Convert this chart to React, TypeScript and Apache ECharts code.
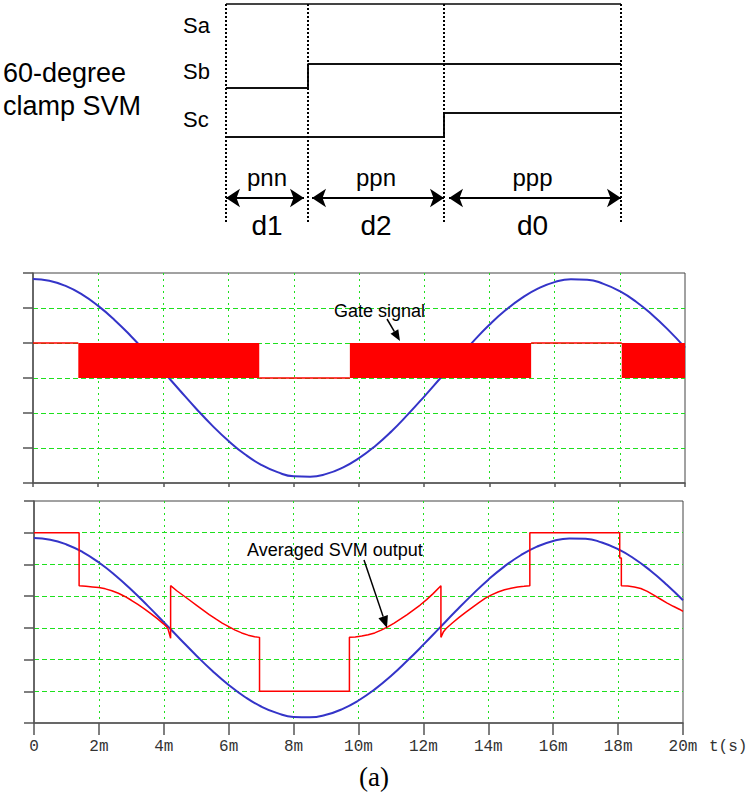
import React, { useEffect, useRef } from "react";
import * as echarts from "echarts";

// ---------- Timing diagram (60-degree clamp SVM) ----------
const intervalNames = ["pnn", "ppn", "ppp"];
const dutyNames = ["d1", "d2", "d0"];
const intervalEdges = [0, 82, 218, 395];
const switchNames = ["Sa", "Sb", "Sc"];
const saStates = [1, 1, 1];
const sbStates = [0, 1, 1];
const scStates = [0, 0, 1];

// ---------- Waveforms (time in ms) ----------
const xTickLabels = ["0", "2m", "4m", "6m", "8m", "10m", "12m", "14m", "16m", "18m", "20m"];
const sineTimes = [0, 0.5, 1, 1.5, 2, 2.5, 3, 3.5, 4, 4.5, 5, 5.5, 6, 6.5, 7, 7.5, 8, 8.5, 9, 9.5, 10,
  10.5, 11, 11.5, 12, 12.5, 13, 13.5, 14, 14.5, 15, 15.5, 16, 16.5, 17, 17.5, 18, 18.5, 19, 19.5, 20];
const sineValues = [2.83, 2.78, 2.63, 2.39, 2.06, 1.66, 1.2, 0.7, 0.18, -0.35, -0.87, -1.36, -1.8, -2.18,
  -2.48, -2.69, -2.81, -2.82, -2.74, -2.56, -2.29, -1.94, -1.52, -1.04, -0.53, 0, 0.53, 1.04, 1.52, 1.94,
  2.29, 2.56, 2.74, 2.82, 2.81, 2.69, 2.48, 2.18, 1.8, 1.36, 0.87];
const gateEdges = [0, 1.39, 6.94, 9.72, 15.28, 18.06, 20];
const gateModes = ["high", "pwm", "low", "pwm", "high", "pwm"];
const avgOutput: [number, number][] = [
  [0, 3], [1.39, 3], [1.39, 1.33], [1.6, 1.31], [1.8, 1.29], [2.0, 1.27], [2.2, 1.23], [2.4, 1.17],
  [2.6, 1.09], [2.8, 0.99], [3.0, 0.87], [3.2, 0.74], [3.4, 0.6], [3.6, 0.45], [3.8, 0.29], [4.0, 0.12],
  [4.12, 0.0], [4.21, -0.33],
  [4.21, 1.33], [4.4, 1.17], [4.6, 1.02], [4.8, 0.87], [5.0, 0.72], [5.2, 0.57], [5.4, 0.42], [5.6, 0.28],
  [5.8, 0.15], [6.0, 0.04], [6.2, -0.07], [6.4, -0.16], [6.6, -0.23], [6.8, -0.28], [6.95, -0.3],
  [6.95, -2], [9.72, -2],
  [9.72, -0.3], [9.9, -0.29], [10.1, -0.26], [10.3, -0.22], [10.5, -0.16], [10.7, -0.07], [10.9, 0.03],
  [11.1, 0.15], [11.3, 0.28], [11.5, 0.42], [11.7, 0.57], [11.9, 0.72], [12.1, 0.89], [12.3, 1.08], [12.54, 1.33],
  [12.54, -0.3], [12.62, -0.12], [12.7, -0.02], [12.9, 0.16], [13.1, 0.33], [13.3, 0.49], [13.5, 0.64],
  [13.7, 0.79], [13.9, 0.93], [14.1, 1.04], [14.3, 1.13], [14.5, 1.2], [14.7, 1.25], [14.9, 1.29],
  [15.1, 1.31], [15.28, 1.33],
  [15.28, 3], [18.05, 3], [18.05, 2.2], [18.1, 2.2], [18.1, 1.33], [18.3, 1.32], [18.5, 1.29], [18.7, 1.24],
  [18.9, 1.15], [19.1, 1.03], [19.3, 0.91], [19.5, 0.79], [19.7, 0.68], [19.9, 0.58], [20, 0.52],
];

// ---------- Styles / layout ----------
const GREEN = "#1ee01e";
const BLUE = "#3434c8";
const RED = "#ff0000";
const AXIS = "#555";
const SANS = "'Liberation Sans', Arial, sans-serif";
const MONO = "'Liberation Mono', 'DejaVu Sans Mono', monospace";
const T = { left: 226, top: 2, width: 395, height: 220 };
const UP = { left: 33, top: 273, width: 652, height: 210 };
const LO = { left: 34, top: 501, width: 649, height: 222 };
const levelBase = [194, 134, 85];
const levelStep = 24;
const arrowLevel = 24;
const arrowInsetL = [0, 4, 5];
const arrowInsetR = [4, 0, 0];

function stepData(states: number[], base: number) {
  const pts: number[][] = [];
  states.forEach((s, i) => {
    const y = base + levelStep * s;
    pts.push([intervalEdges[i], y], [intervalEdges[i + 1], y]);
  });
  return pts;
}

function arrow(x1: number, y1: number, x2: number, y2: number, head = 11, half = 4.5) {
  const dx = x2 - x1, dy = y2 - y1, L = Math.hypot(dx, dy);
  const ux = dx / L, uy = dy / L;
  const bx = x2 - ux * head, by = y2 - uy * head;
  const px = -uy, py = ux;
  return [
    { type: "line", z: 100, shape: { x1, y1, x2: bx, y2: by }, style: { stroke: "#000", lineWidth: 1.5 } },
    { type: "polygon", z: 100, shape: { points: [[x2, y2], [bx + px * half, by + py * half], [bx - px * half, by - py * half]] }, style: { fill: "#000" } },
  ];
}

function txt(text: string, x: number, y: number, size: number, align = "left", family = SANS) {
  return {
    type: "text", z: 100, x, y,
    style: { text, fontSize: size, fontFamily: family, fill: "#000", align, textAlign: align, verticalAlign: "middle", textVerticalAlign: "middle" },
  };
}

function plotX(grid: number, labels: boolean, tickLen: number) {
  return {
    gridIndex: grid, type: "value", min: 0, max: 20, interval: 2,
    axisLine: { show: true, onZero: false, lineStyle: { color: AXIS, width: 1.5 } },
    axisTick: { show: true, length: tickLen, lineStyle: { color: AXIS, width: 1.5 } },
    axisLabel: labels
      ? { show: true, margin: 16, fontFamily: MONO, fontSize: 16, color: "#333", formatter: (v: number) => xTickLabels[Math.round(v / 2)] }
      : { show: false },
    splitLine: { show: true, showMinLine: false, showMaxLine: false, lineStyle: { color: GREEN, type: [2, 4], width: 1 } },
    ...(labels
      ? { name: "t(s)", nameLocation: "end", nameGap: 26, nameTextStyle: { fontFamily: MONO, fontSize: 16, color: "#333", verticalAlign: "top", padding: [16, 0, 0, 0] } }
      : {}),
  };
}

function plotY(grid: number, min: number, max: number) {
  return {
    gridIndex: grid, type: "value", min, max, interval: 1,
    axisLine: { show: true, lineStyle: { color: AXIS, width: 1.5 } },
    axisTick: { show: true, length: 10, lineStyle: { color: AXIS, width: 1.5 } },
    axisLabel: { show: false },
    splitLine: { show: true, showMinLine: false, showMaxLine: false, lineStyle: { color: GREEN, type: [5, 3], width: 1 } },
  };
}

function buildOption() {
  const mids = intervalNames.map((_, i) => T.left + (intervalEdges[i] + intervalEdges[i + 1]) / 2 * (T.width / intervalEdges[3]));

  const gateLine: any[] = [];
  const gateAreas: any[] = [];
  gateModes.forEach((m, i) => {
    const t0 = gateEdges[i], t1 = gateEdges[i + 1];
    if (m === "pwm") gateAreas.push([{ coord: [t0, 0] }, { coord: [t1, 1] }]);
    else {
      const lv = m === "high" ? 1 : 0;
      gateLine.push([t0, lv], [t1, lv], null);
    }
  });

  const sine = sineTimes.map((t, i) => [t, sineValues[i]]);

  const graphics: any[] = [
    txt("60-degree", 3, 73, 27),
    txt("clamp SVM", 3, 106, 27),
    ...switchNames.map((n, i) => txt(n, 183, [25, 71, 119][i], 22)),
    ...intervalNames.map((n, i) => txt(n, mids[i], 177, 24, "center")),
    ...dutyNames.map((n, i) => txt(n, mids[i], 225, 28, "center")),
    txt("Gate signal", 334, 311, 18),
    ...arrow(387, 319, 400, 341),
    txt("Averaged SVM output", 247, 550, 18),
    ...arrow(364, 560, 387, 628, 12, 5),
    txt("(a)", 374, 777, 27, "center", "'Liberation Serif', 'Times New Roman', serif"),
  ];

  return {
    animation: false,
    backgroundColor: "#fff",
    grid: [
      { ...T, show: false },
      { ...UP, show: true, borderColor: "#444", borderWidth: 1 },
      { ...LO, show: true, borderColor: "#444", borderWidth: 1 },
    ],
    xAxis: [
      { gridIndex: 0, type: "value", min: 0, max: intervalEdges[3], show: false },
      plotX(1, false, 4),
      plotX(2, true, 12),
    ],
    yAxis: [
      { gridIndex: 0, type: "value", min: 0, max: T.height, show: false },
      plotY(1, -3, 3),
      plotY(2, -3, 4),
    ],
    series: [
      {
        type: "line", xAxisIndex: 0, yAxisIndex: 0, data: stepData(saStates, levelBase[0]), showSymbol: false,
        lineStyle: { color: "#444", width: 2 }, silent: true,
        markLine: {
          silent: true, symbol: ["none", "none"], label: { show: false },
          lineStyle: { color: "#000", width: 2, type: [2, 2] },
          data: intervalEdges.map((e) => ({ xAxis: e })),
        },
      },
      { type: "line", xAxisIndex: 0, yAxisIndex: 0, data: stepData(sbStates, levelBase[1]), showSymbol: false, lineStyle: { color: "#111", width: 2 }, silent: true },
      {
        type: "line", xAxisIndex: 0, yAxisIndex: 0, data: stepData(scStates, levelBase[2]), showSymbol: false,
        lineStyle: { color: "#111", width: 2 }, silent: true,
        markLine: {
          silent: true, symbol: ["arrow", "arrow"], symbolSize: 14, label: { show: false },
          lineStyle: { color: "#000", width: 2, type: "solid" },
          data: intervalNames.map((_, i) => [
            { coord: [intervalEdges[i] + arrowInsetL[i], arrowLevel] },
            { coord: [intervalEdges[i + 1] - arrowInsetR[i], arrowLevel] },
          ]),
        },
      },
      {
        type: "line", xAxisIndex: 1, yAxisIndex: 1, data: sine, smooth: true, showSymbol: false, z: 1,
        lineStyle: { color: BLUE, width: 2 }, silent: true,
      },
      {
        type: "line", xAxisIndex: 1, yAxisIndex: 1, data: gateLine, showSymbol: false, connectNulls: false, z: 3,
        lineStyle: { color: RED, width: 1.5 }, silent: true,
        markArea: { z: 10, silent: true, itemStyle: { color: RED, opacity: 1 }, label: { show: false }, data: gateAreas },
      },
      {
        type: "line", xAxisIndex: 2, yAxisIndex: 2, data: sine, smooth: true, showSymbol: false, z: 2,
        lineStyle: { color: BLUE, width: 2 }, silent: true,
      },
      {
        type: "line", xAxisIndex: 2, yAxisIndex: 2, data: avgOutput, showSymbol: false, z: 3,
        lineStyle: { color: RED, width: 1.5 }, silent: true,
      },
    ],
    graphic: graphics,
  };
}

export default function App() {
  const ref = useRef<HTMLDivElement>(null);
  useEffect(() => {
    if (!ref.current) return;
    const chart = echarts.init(ref.current, undefined, { renderer: "svg" });
    chart.setOption(buildOption() as any);
    return () => chart.dispose();
  }, []);
  return <div ref={ref} style={{ position: "fixed", left: 0, top: 0, width: 751, height: 795, background: "#fff" }} />;
}
